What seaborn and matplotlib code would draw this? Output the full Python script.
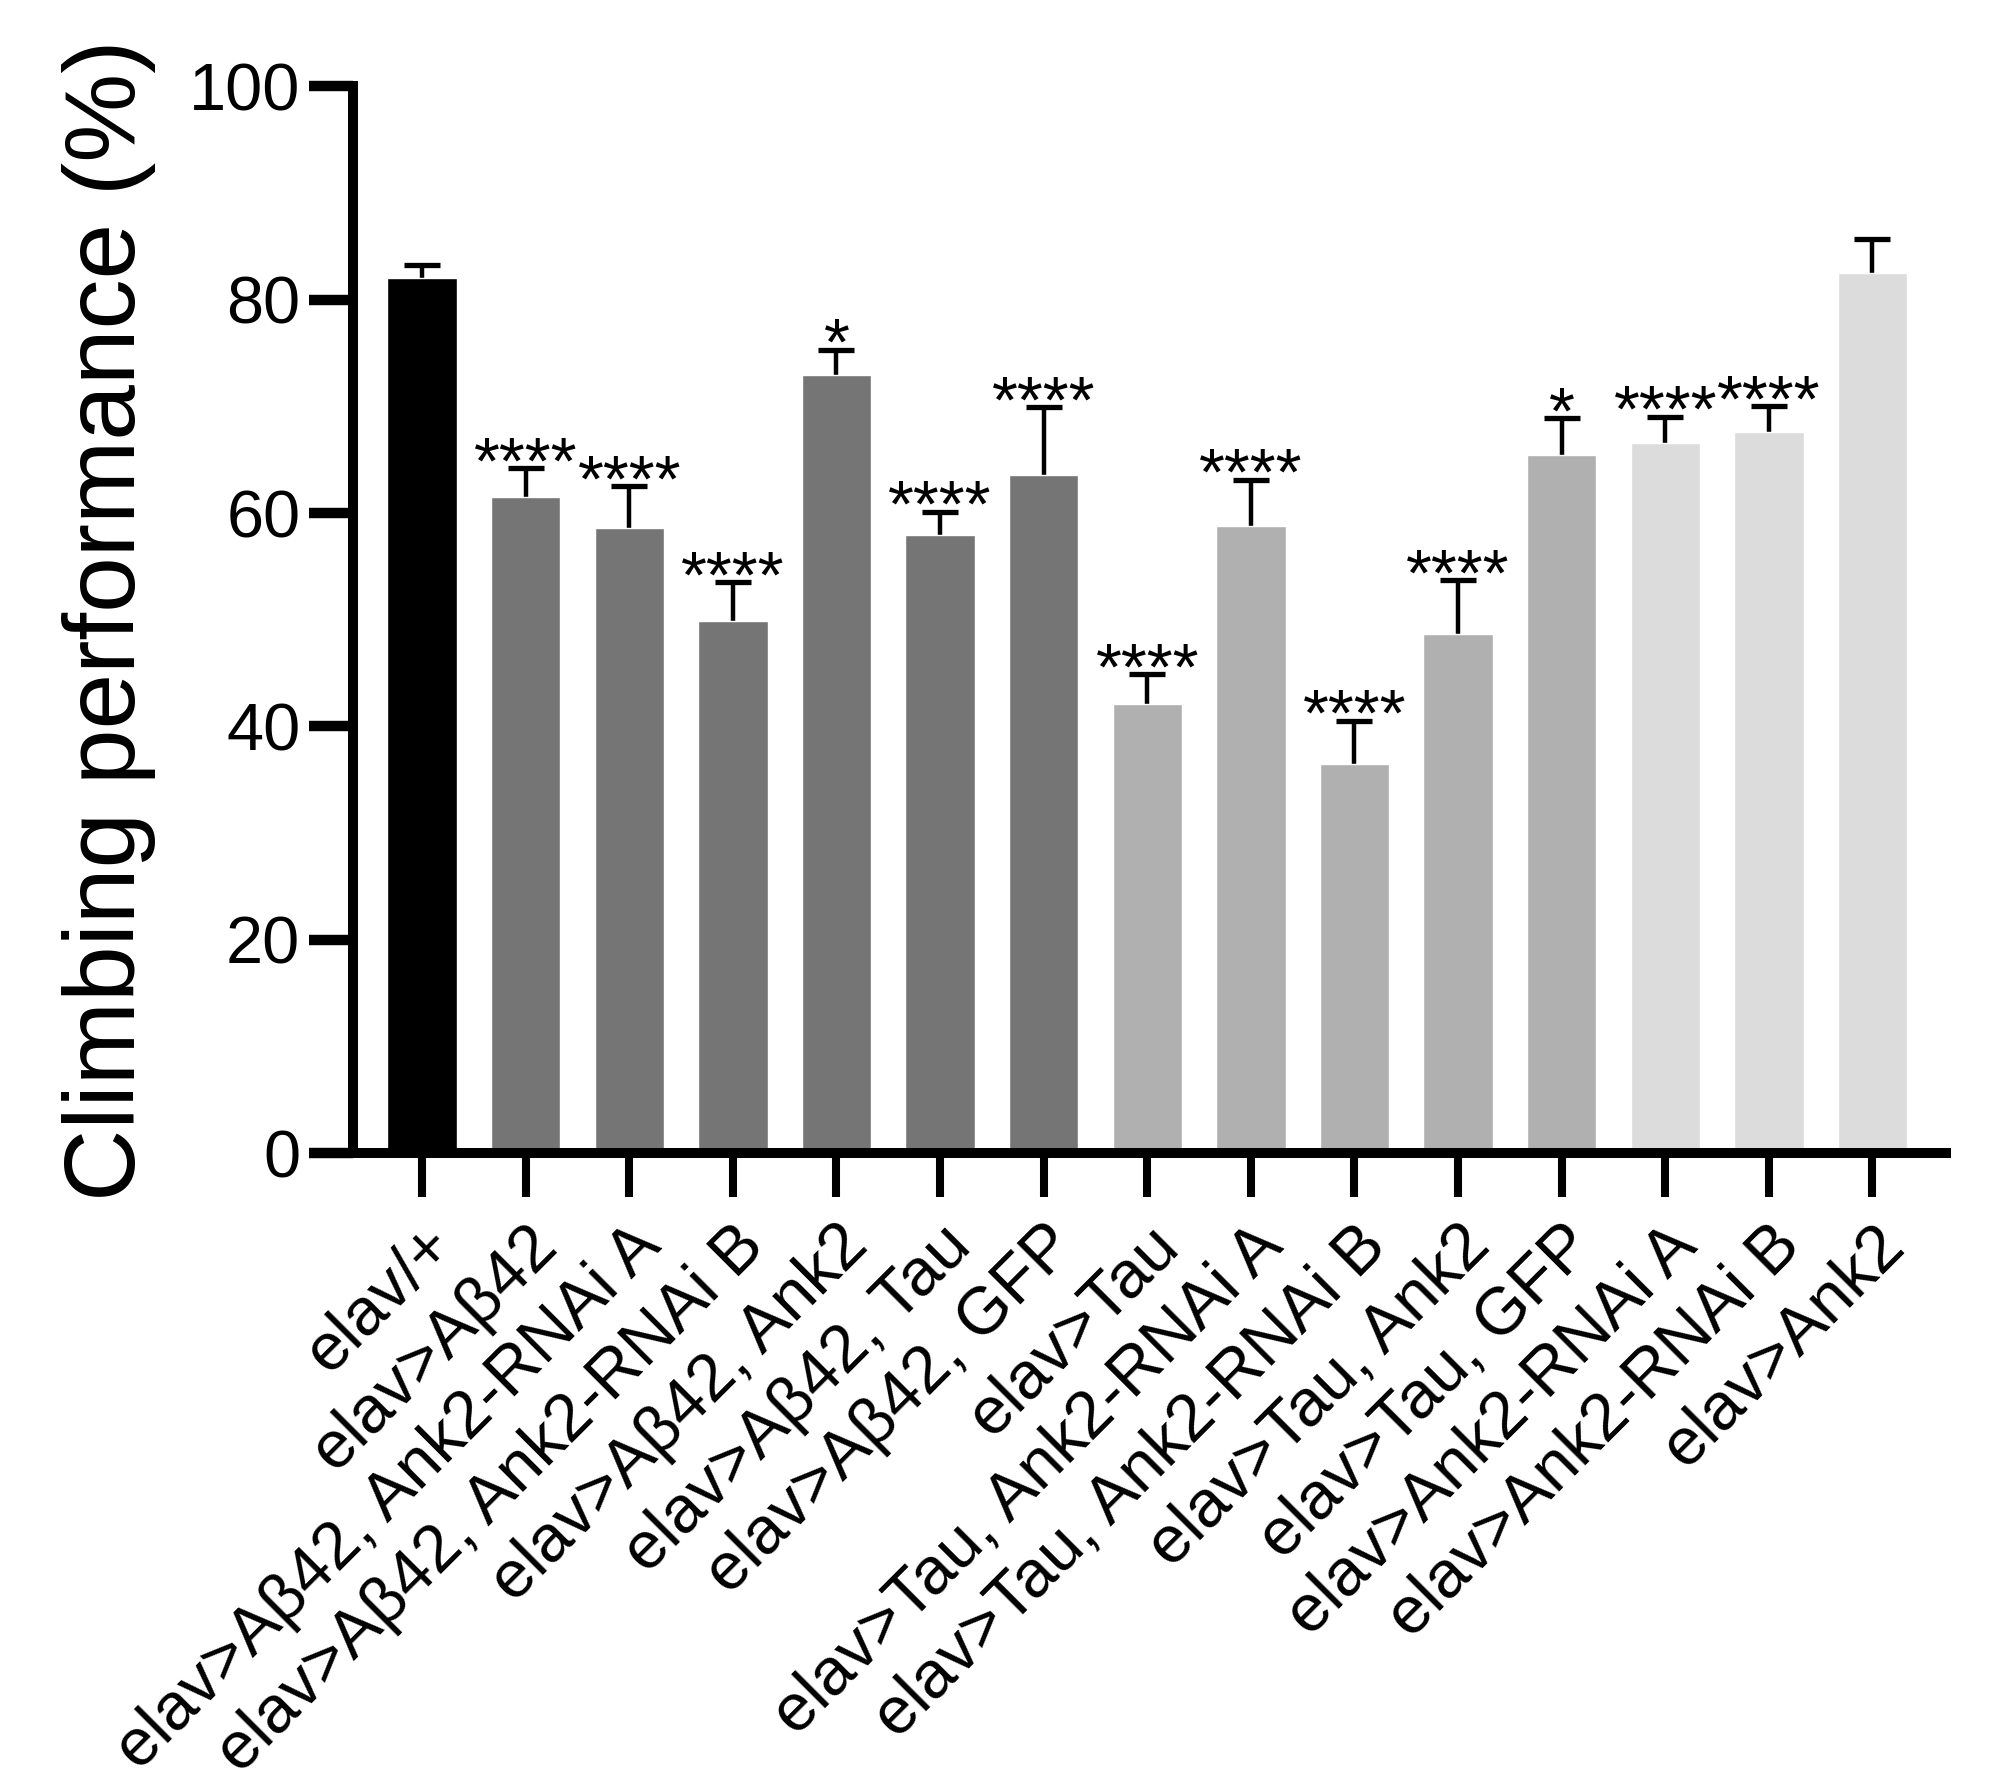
import matplotlib
matplotlib.use("Agg")
import matplotlib.pyplot as plt
import seaborn as sns
import pandas as pd

# Climbing assay: mean and SEM per genotype
genotypes = [
    "elav/+",
    "elav>Aβ42",
    "elav>Aβ42, Ank2-RNAi A",
    "elav>Aβ42, Ank2-RNAi B",
    "elav>Aβ42, Ank2",
    "elav>Aβ42, Tau",
    "elav>Aβ42, GFP",
    "elav>Tau",
    "elav>Tau, Ank2-RNAi A",
    "elav>Tau, Ank2-RNAi B",
    "elav>Tau, Ank2",
    "elav>Tau, GFP",
    "elav>Ank2-RNAi A",
    "elav>Ank2-RNAi B",
    "elav>Ank2",
]
means = [82.0, 61.5, 58.6, 49.9, 72.9, 57.9, 63.6, 42.1, 58.8, 36.5, 48.7, 65.4, 66.6, 67.6, 82.5]
sem = [1.3, 2.7, 3.9, 3.6, 2.4, 2.2, 6.3, 2.8, 4.3, 4.0, 5.0, 3.5, 2.4, 2.4, 3.2]
stars = ["", "****", "****", "****", "*", "****", "****",
         "****", "****", "****", "****", "*", "****", "****", ""]
bar_colors = ["#000000"] + ["#757575"] * 6 + ["#b0b0b1"] * 5 + ["#dcdcdc"] * 3

df = pd.DataFrame({"genotype": genotypes, "climbing": means})

sns.set_style("white")
plt.rcParams["font.family"] = ["Liberation Sans", "DejaVu Sans"]
plt.rcParams["text.color"] = "black"
plt.rcParams["axes.labelcolor"] = "black"
plt.rcParams["xtick.color"] = "black"
plt.rcParams["ytick.color"] = "black"

fig = plt.figure(figsize=(20.07, 17.88), dpi=100)
ax = fig.add_axes([0.1759, 0.3551, 0.7937, 0.5966])

sns.barplot(data=df, x="genotype", y="climbing", hue="genotype",
            palette=bar_colors, saturation=1, width=0.67,
            errorbar=None, legend=False, ax=ax)
for p in ax.patches:
    p.set_zorder(2)

# SEM bars drawn behind the bars so only the upper half shows
ax.errorbar(range(len(means)), means, yerr=sem,
            fmt="none", ecolor="black", elinewidth=3.2,
            capsize=13.3, capthick=3.8, zorder=1)

for i, s in enumerate(stars):
    if s:
        ax.text(i, means[i] + sem[i] - 1.4, s, ha="center", va="baseline",
                fontsize=48, color="black")

ax.set_xlim(-0.666, 14.71)
ax.set_ylim(0, 100)
ax.set_yticks([0, 20, 40, 60, 80, 100])

sns.despine(ax=ax)
for side in ["left", "bottom"]:
    ax.spines[side].set_linewidth(7.2)
    ax.spines[side].set_color("black")
    ax.spines[side].set_zorder(3)

ax.tick_params(axis="y", length=32, width=7.5, labelsize=48, pad=6,
               direction="out", left=True)
ax.tick_params(axis="x", length=32, width=5.8, labelsize=48, pad=12,
               direction="out", bottom=True)
ax.set_xticks(range(len(genotypes)))
ax.set_xticklabels(genotypes, rotation=45, ha="right", rotation_mode="anchor")

ax.set_xlabel("")
ax.set_ylabel("Climbing performance (%)", fontsize=72)
ax.yaxis.set_label_coords(-0.124, 0.5)

fig.savefig("out.png", dpi=100, facecolor="white")
